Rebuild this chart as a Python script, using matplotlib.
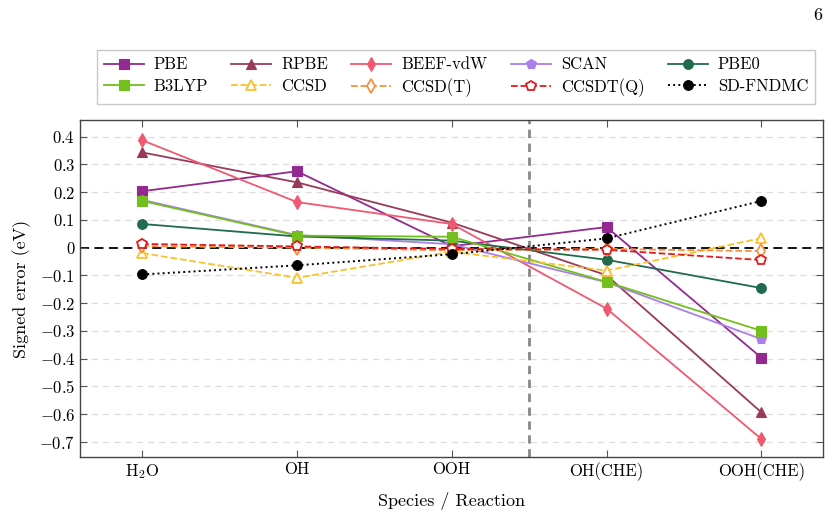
import numpy as np
import matplotlib
matplotlib.use("Agg")
import matplotlib.pyplot as plt

plt.rcParams['font.family'] = 'serif'
plt.rcParams['font.serif'] = ['cmr10', 'DejaVu Serif']
plt.rcParams['mathtext.fontset'] = 'cm'
plt.rcParams['axes.formatter.use_mathtext'] = True

# data
categories = ['H$_2$O', 'OH', 'OOH', 'OH(CHE)', 'OOH(CHE)']
methods = ['PBE', 'RPBE', 'BEEF-vdW', 'SCAN', 'PBE0',
           'B3LYP', 'CCSD', 'CCSD(T)', 'CCSDT(Q)', 'SD-FNDMC']
pbe = [0.203, 0.275, 0.005, 0.074, -0.397]
rpbe = [0.343, 0.235, 0.09, -0.10, -0.594]
beef = [0.387, 0.164, 0.085, -0.22, -0.69]
scan = [0.172, 0.045, 0.012, -0.125, -0.33]
pbe0 = [0.085, 0.04, 0.025, -0.044, -0.146]
b3lyp = [0.168, 0.043, 0.039, -0.124, -0.30]
ccsd = [-0.02, -0.109, -0.015, -0.083, 0.034]
ccsd_t = [0.005, 0.0, -0.01, -0.005, -0.013]
ccsdt_q = [0.013, 0.004, -0.005, -0.008, -0.045]
fndmc = [-0.097, -0.064, -0.024, 0.033, 0.168]

yticks = [0.4, 0.3, 0.2, 0.1, 0, -0.1, -0.2, -0.3, -0.4, -0.5, -0.6, -0.7]

series = [
    (pbe, '#932a8f', '-', 's', True),
    (rpbe, '#993a5a', '-', '^', True),
    (beef, '#f0596f', '-', 'd', True),
    (scan, '#a97fea', '-', 'p', True),
    (pbe0, '#1f6b4c', '-', 'o', True),
    (b3lyp, '#72bf1e', '-', 's', True),
    (ccsd, '#fbc02d', '--', '^', False),
    (ccsd_t, '#f6913e', '--', 'd', False),
    (ccsdt_q, '#e31a1c', '--', 'p', False),
    (fndmc, '#000000', ':', 'o', True),
]

fig = plt.figure(figsize=(8.35, 5.17), dpi=100)
ax = fig.add_axes([0.096, 0.116, 0.890, 0.652])

x = np.arange(len(categories))
for yt in yticks:
    if yt != 0:
        ax.axhline(yt, color='#dddddd', lw=0.9, ls=(0, (5, 4)), zorder=0)
ax.axhline(0, color='black', lw=1.3, ls=(0, (5, 3)), zorder=1)
ax.axvline(2.5, color='#888888', lw=2.0, ls=(0, (3, 2)), zorder=1)

handles = []
for (vals, col, ls, mk, filled), name in zip(series, methods):
    lw = 1.3 if ls != ':' else 1.4
    h, = ax.plot(x, vals, color=col, ls=ls, lw=lw, marker=mk,
                 markersize=7,
                 markerfacecolor=col if filled else 'white',
                 markeredgecolor=col, markeredgewidth=1.3 if not filled else 0.8,
                 label=name, zorder=3)
    handles.append(h)

ax.set_xlim(-0.4, 4.4)
ax.set_ylim(-0.755, 0.46)
ax.set_xticks(x)
ax.set_xticklabels(categories, fontsize=12)
ax.set_yticks(yticks)
ax.set_yticklabels(['$%g$' % v if v != 0 else '$0$' for v in yticks], fontsize=12)
ax.tick_params(direction='in', top=True, right=True, length=5, color='#555555')
for s in ax.spines.values():
    s.set_color('#444444')
    s.set_linewidth(1.0)

ax.set_ylabel('Signed error (eV)', fontsize=13, labelpad=6)
ax.set_xlabel('Species / Reaction', fontsize=13, labelpad=8)

# legend fills column by column, so reorder to get rows of five
order = [0, 5, 1, 6, 2, 7, 3, 8, 4, 9]
leg = fig.legend([handles[i] for i in order], [methods[i] for i in order],
                 loc='center', ncol=5,
                 bbox_to_anchor=(0.116, 0.799, 0.86, 0.104), mode='expand',
                 fontsize=12, frameon=True, fancybox=False, edgecolor='#bbbbbb',
                 handlelength=2.4, columnspacing=1.0, borderpad=0.4,
                 labelspacing=0.35, handletextpad=0.6, borderaxespad=0)
leg.get_frame().set_linewidth(1.0)

fig.text(0.985, 0.97, '6', fontsize=13, ha='right', va='center')

fig.savefig('out.png', dpi=100)
